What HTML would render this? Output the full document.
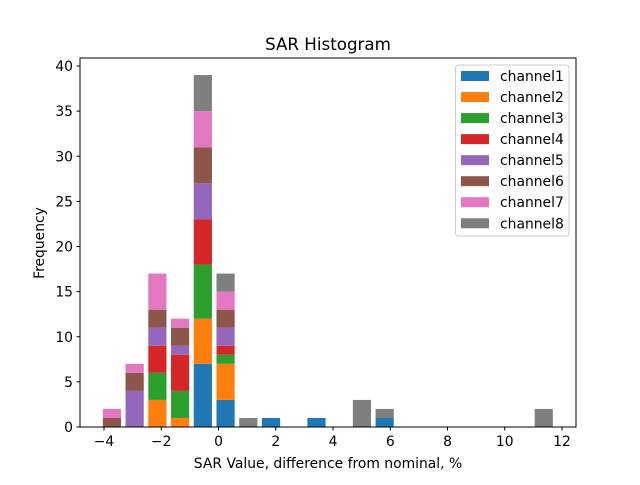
<!DOCTYPE html>
<html><head><meta charset="utf-8"><style>
body{margin:0;background:#fff;}
svg{font-family:"DejaVu Sans","Liberation Sans",sans-serif;}
</style></head><body>
<svg id="chart" width="640" height="480" viewBox="0 0 640 480" xmlns="http://www.w3.org/2000/svg">
<rect x="0" y="0" width="640" height="480" fill="#fff"/>
<text x="328" y="50" font-size="16.7" text-anchor="middle">SAR Histogram</text>
<g id="bars"></g>
<rect x="80" y="58" width="496" height="369" fill="none" stroke="#000" stroke-width="1"/>
<g id="xt"></g><g id="yt"></g>
<text x="328" y="468" font-size="13.9" text-anchor="middle">SAR Value, difference from nominal, %</text>
<text transform="translate(44,243) rotate(-90)" font-size="13.9" text-anchor="middle">Frequency</text>
<g id="legend"></g>
</svg>
<script>
const seriesNames=["channel1","channel2","channel3","channel4","channel5","channel6","channel7","channel8"];
const colors=["#1f77b4","#ff7f0e","#2ca02c","#d62728","#9467bd","#8c564b","#e377c2","#7f7f7f"];
const binStart=-4.12, binWidth=0.794;
const ch1=[0,0,0,0,7,3,0,1,0,1,0,0,1,0,0,0,0,0,0,0];
const ch2=[0,0,3,1,5,4,0,0,0,0,0,0,0,0,0,0,0,0,0,0];
const ch3=[0,0,3,3,6,1,0,0,0,0,0,0,0,0,0,0,0,0,0,0];
const ch4=[0,0,3,4,5,1,0,0,0,0,0,0,0,0,0,0,0,0,0,0];
const ch5=[0,4,2,1,4,2,0,0,0,0,0,0,0,0,0,0,0,0,0,0];
const ch6=[1,2,2,2,4,2,0,0,0,0,0,0,0,0,0,0,0,0,0,0];
const ch7=[1,1,4,1,4,2,0,0,0,0,0,0,0,0,0,0,0,0,0,0];
const ch8=[0,0,0,0,4,2,1,0,0,0,0,3,1,0,0,0,0,0,0,2];
const series=[ch1,ch2,ch3,ch4,ch5,ch6,ch7,ch8];
const xTicks=[-4,-2,0,2,4,6,8,10,12];
const yTicks=[0,5,10,15,20,25,30,35,40];
const NS="http://www.w3.org/2000/svg";
const xs=v=>104+(v+4)*28.625;
const ys=v=>427-v*9.025;
function mk(t,a,p){const e=document.createElementNS(NS,t);for(const k in a)e.setAttribute(k,a[k]);p.appendChild(e);return e;}
const bars=document.getElementById('bars');
const nb=ch1.length;
for(let b=0;b<nb;b++){
  let base=0;
  const c=binStart+binWidth*(b+0.5);
  const w=binWidth*0.8;
  for(let s=0;s<series.length;s++){
    const v=series[s][b];
    if(v>0){
      const r=mk('rect',{x:xs(c-w/2),y:ys(base+v),width:xs(c+w/2)-xs(c-w/2),height:ys(base)-ys(base+v),fill:colors[s]},bars);
      
      
    }
    base+=v;
  }
}
const xt=document.getElementById('xt');
xTicks.forEach(t=>{
  const l=mk('line',{x1:xs(t),x2:xs(t),y1:427,y2:430.5,stroke:'#000'},xt);
  
  
  const tx=mk('text',{x:xs(t),y:446,'font-size':13.9,'text-anchor':'middle'},xt);
  tx.textContent=(t<0?'\u2212'+(-t):''+t);
  
  
});
const yt=document.getElementById('yt');
yTicks.forEach(t=>{
  const l=mk('line',{x1:76.5,x2:80,y1:ys(t),y2:ys(t),stroke:'#000'},yt);
  
  
  const tx=mk('text',{x:73,y:ys(t)+5,'font-size':13.9,'text-anchor':'end'},yt);
  tx.textContent=t;
  
  
});
const lg=document.getElementById('legend');
const box=mk('rect',{x:455.5,y:65,width:113.5,height:171,rx:3,fill:'#fff','fill-opacity':0.8,stroke:'#ccc'},lg);


seriesNames.forEach((n,i)=>{
  const y=76+i*21.04;
  const sw=mk('rect',{x:461,y:y-5,width:28,height:10,fill:colors[i]},lg);
  
  
  const tx=mk('text',{x:500,y:y+5,'font-size':13.9},lg);
  tx.textContent=n;
  
  
});
</script>
</body></html>
